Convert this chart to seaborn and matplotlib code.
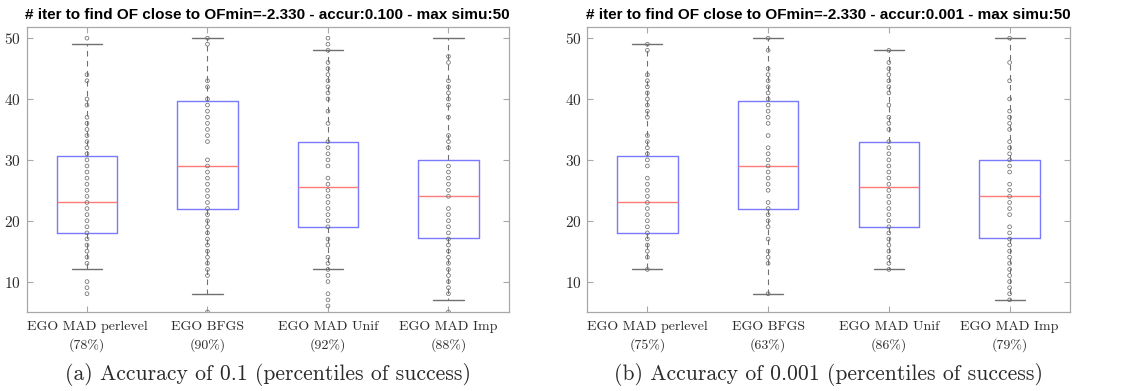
import matplotlib
matplotlib.use("Agg")
import matplotlib.pyplot as plt
import seaborn as sns
import pandas as pd

# ---------------- data ----------------
methods = ["EGO MAD perlevel", "EGO BFGS", "EGO MAD Unif", "EGO MAD Imp"]
success_a = ["78%", "90%", "92%", "88%"]
success_b = ["75%", "63%", "86%", "79%"]

title_a = "# iter to find OF close to OFmin=-2.330 - accur:0.100 - max simu:50"
title_b = "# iter to find OF close to OFmin=-2.330 - accur:0.001 - max simu:50"
caption_a = "(a) Accuracy of 0.1 (percentiles of success)"
caption_b = "(b) Accuracy of 0.001 (percentiles of success)"

# box statistics (panel a)
q1_a = [18, 22, 19, 17.2]
med_a = [23, 29, 25.5, 24]
q3_a = [30.7, 39.75, 33, 30]
wlo_a = [12, 8, 12, 7]
whi_a = [49, 50, 48, 50]

# box statistics (panel b)
q1_b = [18, 22, 19, 17.2]
med_b = [23, 29, 25.5, 24]
q3_b = [30.7, 39.75, 33, 30]
wlo_b = [12, 8, 12, 7]
whi_b = [49, 50, 48, 50]

# observed values (distinct iteration counts) per method, panel a
pts_a_perlevel = [50, 44, 43, 40, 39, 37, 36, 35, 34, 33, 32, 31, 30, 29, 28, 27, 26, 25, 24, 23,
                  22, 21, 20, 19, 18, 17, 16, 15, 14, 13, 10, 9, 8]
pts_a_bfgs = [50, 49, 43, 42, 40, 39, 38, 37, 36, 35, 34, 33, 30, 29, 28, 27, 26, 25, 24, 23, 22,
              21, 20, 19, 18, 17, 16, 15, 14, 13, 12, 11, 5]
pts_a_unif = [50, 49, 48, 46, 45, 44, 43, 42, 41, 40, 38, 36, 33, 32, 31, 30, 29, 27, 26, 25, 24,
              23, 22, 21, 20, 19, 17, 16, 14, 13, 12, 11, 10, 8, 7, 6]
pts_a_imp = [47, 46, 43, 42, 41, 40, 39, 37, 34, 33, 32, 29, 28, 27, 26, 25, 24, 22, 21, 20, 19,
             18, 17, 16, 15, 14, 13, 12, 11, 10, 9, 8, 5]

# observed values per method, panel b
pts_b_perlevel = [49, 48, 44, 43, 42, 41, 40, 39, 38, 37, 34, 33, 32, 31, 30, 29, 27, 26, 25, 24,
                  23, 22, 21, 20, 19, 18, 17, 16, 15, 14, 12]
pts_b_bfgs = [50, 48, 45, 44, 43, 42, 41, 40, 39, 38, 37, 36, 34, 32, 31, 30, 29, 28, 27, 26, 25,
              23, 22, 21, 20, 19, 17, 15, 14, 13, 8]
pts_b_unif = [48, 46, 45, 44, 43, 42, 41, 39, 37, 36, 35, 33, 32, 31, 30, 29, 28, 27, 26, 25, 24,
              23, 22, 21, 20, 19, 18, 17, 16, 15, 14, 13, 12]
pts_b_imp = [50, 46, 43, 40, 38, 37, 36, 35, 33, 32, 31, 30, 29, 28, 26, 25, 24, 23, 22, 21, 19,
             18, 17, 16, 15, 14, 13, 12, 11, 10, 9, 8, 7]

# ---------------- style ----------------
sns.set_theme(style="white")
plt.rcParams["font.family"] = ["DejaVu Sans"]
plt.rcParams["axes.formatter.use_mathtext"] = True

BOX = "#7a7aff"
MED = "#ff7a7a"
GRAY = "#707070"
FRAME = "#a8a8a8"
TXT = "#2b2b2b"

fig = plt.figure(figsize=(11.23, 3.91), dpi=100)
ax_a = fig.add_axes([0.0238, 0.202, 0.4292, 0.730])
ax_b = fig.add_axes([0.5227, 0.202, 0.4301, 0.730])


def panel(ax, q1, med, q3, wlo, whi, pts_lists, success, title, caption):
    stats = []
    for i in range(len(methods)):
        stats.append(dict(q1=q1[i], med=med[i], q3=q3[i], whislo=wlo[i], whishi=whi[i],
                          fliers=[], label=methods[i]))
    ax.bxp(stats, positions=list(range(len(methods))), widths=0.5, showfliers=False,
           capwidths=0.25,
           boxprops=dict(color=BOX, linewidth=1.0),
           medianprops=dict(color=MED, linewidth=1.0),
           whiskerprops=dict(color=GRAY, linewidth=0.8, linestyle=(0, (5, 4))),
           capprops=dict(color=GRAY, linewidth=1.0))
    rows = []
    for m, pts in zip(methods, pts_lists):
        for v in pts:
            rows.append({"method": m, "iters": v})
    df = pd.DataFrame(rows)
    sns.stripplot(data=df, x="method", y="iters", order=methods, jitter=False, ax=ax,
                  marker="o", size=2.7, facecolors="none", edgecolor=GRAY, linewidth=0.55,
                  color="none", zorder=3)
    ax.set_xlim(-0.5, len(methods) - 0.5)
    ax.set_ylim(5, 51.9)
    ax.set_yticks([10, 20, 30, 40, 50])
    ax.set_xticks(list(range(len(methods))))
    ax.set_xticklabels([f"{m}\n({s})" for m, s in zip(methods, success)],
                       family="cmr10", fontsize=10.0, color=TXT, linespacing=1.45)
    for lab in ax.get_yticklabels():
        lab.set_family("cmr10")
        lab.set_fontsize(11)
        lab.set_color(TXT)
    ax.set_xlabel("")
    ax.set_ylabel("")
    ax.tick_params(direction="in", length=4, width=0.8, color=FRAME,
                   top=True, right=True, bottom=True, left=True, pad=4)
    ax.tick_params(axis="x", pad=6.5)
    for sp in ax.spines.values():
        sp.set_color(FRAME)
        sp.set_linewidth(0.9)
    ax.set_title(title, fontsize=11.0, fontweight="bold", family="Liberation Sans",
                 color="black", pad=5.5)
    pos = ax.get_position()
    fig.text((pos.x0 + pos.x1) / 2, 1 - 375 / 391, caption, ha="center", va="center",
             family="cmr10", fontsize=15.6, color=TXT)


panel(ax_a, q1_a, med_a, q3_a, wlo_a, whi_a,
      [pts_a_perlevel, pts_a_bfgs, pts_a_unif, pts_a_imp], success_a, title_a, caption_a)
panel(ax_b, q1_b, med_b, q3_b, wlo_b, whi_b,
      [pts_b_perlevel, pts_b_bfgs, pts_b_unif, pts_b_imp], success_b, title_b, caption_b)

fig.savefig("out.png", dpi=100)
